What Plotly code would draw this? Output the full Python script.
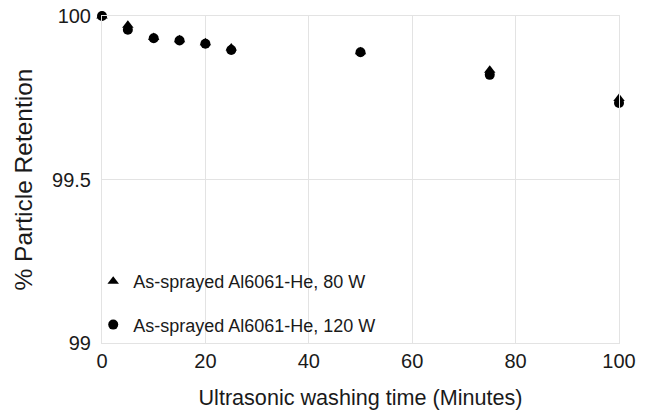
import plotly.graph_objects as go

time_min = [0, 5, 10, 15, 20, 25, 50, 75, 100]
ret_80w = [100.0, 99.972, 99.934, 99.927, 99.918, 99.902, 99.891, 99.834, 99.748]
ret_120w = [100.0, 99.958, 99.932, 99.925, 99.915, 99.896, 99.889, 99.820, 99.734]
x_ticks = [0, 20, 40, 60, 80, 100]
y_ticks = [99, 99.5, 100]
y_tick_text = ["99", "99.5", "100"]
names = ["As-sprayed Al6061-He, 80 W", "As-sprayed Al6061-He, 120 W"]

fig = go.Figure()
fig.add_trace(go.Scatter(x=time_min, y=ret_120w, mode="markers", name=names[1],
                         marker=dict(symbol="circle", size=10, color="black"),
                         legendgroup="b", legendrank=2, cliponaxis=False))
fig.add_trace(go.Scatter(x=time_min, y=ret_80w, mode="markers", name=names[0],
                         marker=dict(symbol="triangle-up", size=10, color="black"),
                         legendgroup="a", legendrank=1, cliponaxis=False))

font = "Liberation Sans, Arial, Helvetica, sans-serif"
grid = "#e3e3e3"
fig.update_layout(
    width=649, height=412,
    margin=dict(l=102, r=30, t=16, b=69),
    paper_bgcolor="white", plot_bgcolor="white",
    font=dict(family=font, size=20, color="#1a1a1a"),
    showlegend=True,
    legend=dict(x=-0.017, y=0.0, xanchor="left", yanchor="bottom",
                bgcolor="rgba(0,0,0,0)", font=dict(size=18, color="#1a1a1a"),
                tracegroupgap=17, itemwidth=30, traceorder="grouped"),
)
fig.update_xaxes(range=[0, 100], tickvals=x_ticks, showgrid=True, gridcolor=grid,
                 gridwidth=1, zeroline=False, showline=True, linecolor=grid, mirror=True,
                 ticks="", tickfont=dict(size=20), ticklabelstandoff=0, automargin=False,
                 ticklabeloverflow="allow",
                 title=dict(text="Ultrasonic washing time (Minutes)", font=dict(size=21.6), standoff=18))
fig.update_yaxes(range=[99, 100], tickvals=y_ticks, ticktext=y_tick_text, showgrid=True,
                 gridcolor=grid, gridwidth=1, zeroline=False, showline=True,
                 linecolor=grid, mirror=True, ticks="", tickfont=dict(size=20),
                 ticklabelstandoff=6, automargin=False, ticklabeloverflow="allow",
                 title=dict(text="% Particle Retention", font=dict(size=24.5), standoff=12))
fig.write_html("out.html", config={"displayModeBar": False},
               post_script="document.body.style.margin='0';document.body.style.overflow='hidden';")
